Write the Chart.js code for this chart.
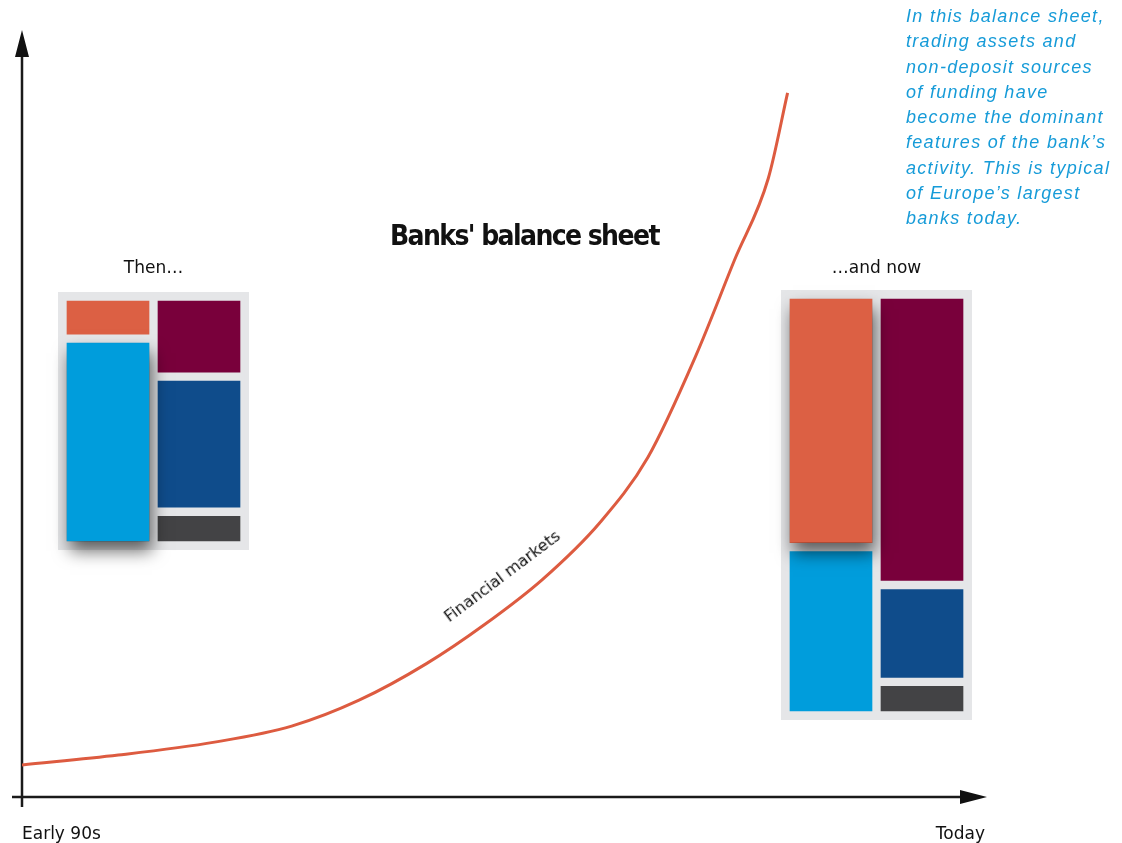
<!DOCTYPE html>
<html>
<head>
<meta charset="utf-8">
<script src="https://cdn.jsdelivr.net/npm/chart.js@4"></script>
<style>
  html, body { margin: 0; padding: 0; background: #fff; }
  #wrap { position: relative; width: 1122px; height: 843px; overflow: hidden; }
  canvas { position: absolute; }
  #main { left: 0; top: 0; }
  #then { left: 38px; top: 250px; }
  #now { left: 761px; top: 250px; }
  .title {
    position: absolute; left: 390px; top: 219px;
    font-family: "DejaVu Sans", sans-serif; font-weight: bold; font-size: 28px;
    font-stretch: condensed; letter-spacing: -1.6px;
    color: #111; white-space: nowrap;
  }
  .note {
    position: absolute; left: 906px; top: 4px;
    font: italic 18px "Liberation Sans", Arial, sans-serif;
    line-height: 25.3px; letter-spacing: 1.3px;
    color: #169bd8; white-space: nowrap;
  }
  .curve-label {
    position: absolute; left: 502px; top: 576px;
    transform: translate(-50%, -50%) rotate(-37deg);
    font: 16px "DejaVu Sans", sans-serif; color: #111; white-space: nowrap;
  }
</style>
</head>
<body>
<div id="wrap">
  <canvas id="main" width="1122" height="843"></canvas>
  <canvas id="then" width="230" height="340"></canvas>
  <canvas id="now" width="230" height="500"></canvas>
  <div class="title">Banks' balance sheet</div>
  <div class="curve-label">Financial markets</div>
  <div class="note">In this balance sheet,<br>trading assets and<br>non-deposit sources<br>of funding have<br>become the dominant<br>features of the bank’s<br>activity. This is typical<br>of Europe’s largest<br>banks today.</div>
</div>
<script>
// financial markets curve, 0..100 on both axes
const curveX = [0, 10, 20, 28, 35, 42, 48, 54, 60, 65, 70, 74, 77.5, 79.5];
const curveY = [4.2, 5.5, 7.2, 9.3, 12.7, 17.5, 22.6, 28.5, 36.0, 44.6, 58.0, 70.5, 81.2, 92.4];
const timeTicks = [0, 100];
const timeLabels = ["Early 90s", "Today"];

// balance sheets, same size units for both
const sheetSides = ["Assets", "Liabilities"];
const seriesNames = ["Loans", "Trading assets", "Equity", "Deposits", "Non-deposit funding"];
const seriesSide = [0, 0, 1, 1, 1];
const thenValues = [49, 10, 8, 32, 19];
const nowValues = [40, 60, 8, 23, 69];

const seriesColors = ["#009ddc", "#dc6044", "#434345", "#0f4c8b", "#79003b"];
const GRAY = "#e5e6e8";
const GAP = 4.5;

const axisArrows = {
  id: "axisArrows",
  beforeDatasetsDraw(chart) {
    const { ctx, chartArea: a } = chart;
    const x0 = chart.scales.x.getPixelForValue(0);
    const y0 = chart.scales.y.getPixelForValue(0);
    ctx.save();
    ctx.strokeStyle = "#1a1a1a";
    ctx.fillStyle = "#111";
    ctx.lineWidth = 2.5;
    ctx.beginPath();
    ctx.moveTo(x0 - 10, y0);
    ctx.lineTo(a.right - 20, y0);
    ctx.moveTo(x0, y0 + 10);
    ctx.lineTo(x0, a.top + 18);
    ctx.stroke();
    ctx.beginPath();
    ctx.moveTo(a.right + 2, y0);
    ctx.lineTo(a.right - 25, y0 - 7);
    ctx.lineTo(a.right - 25, y0 + 7);
    ctx.closePath();
    ctx.moveTo(x0, a.top - 5);
    ctx.lineTo(x0 - 7, a.top + 22);
    ctx.lineTo(x0 + 7, a.top + 22);
    ctx.closePath();
    ctx.fill();
    ctx.restore();
  },
};

new Chart(document.getElementById("main"), {
  type: "line",
  data: {
    datasets: [
      {
        label: "Financial markets",
        data: curveX.map((x, i) => ({ x, y: curveY[i] })),
        borderColor: "#dd5b40",
        borderWidth: 3,
        pointRadius: 0,
        cubicInterpolationMode: "monotone",
        fill: false,
      },
    ],
  },
  options: {
    responsive: false,
    animation: false,
    layout: { autoPadding: false, padding: { left: 22, right: 137, top: 35, bottom: 0 } },
    plugins: { legend: { display: false }, tooltip: { enabled: false } },
    scales: {
      x: {
        type: "linear",
        min: 0,
        max: 100,
        grid: { display: false },
        border: { display: false },
        afterBuildTicks: (s) => {
          s.ticks = timeTicks.map((v) => ({ value: v }));
        },
        afterFit: (s) => {
          s.height = 46;
        },
        ticks: {
          align: "inner",
          padding: 19,
          autoSkip: false,
          maxRotation: 0,
          color: "#111",
          font: { family: "DejaVu Sans", size: 17 },
          callback: (v, i) => timeLabels[i],
        },
      },
      y: { display: false, min: 0, max: 100 },
    },
  },
  plugins: [axisArrows],
});

// gray backing box plus a drop shadow under one block
const sheetBox = {
  id: "sheetBox",
  beforeDatasetsDraw(chart) {
    const { ctx, chartArea: a } = chart;
    ctx.save();
    ctx.fillStyle = GRAY;
    ctx.fillRect(a.left - GAP, a.top - GAP, a.width + GAP * 2, a.height + GAP * 2);
    ctx.restore();
  },
  afterDatasetsDraw(chart, args, opts) {
    const i = opts.shadow;
    const bar = chart.getDatasetMeta(i).data[seriesSide[i]];
    const p = bar.getProps(["x", "y", "base", "width"], true);
    const left = p.x - p.width / 2 + GAP;
    const top = Math.min(p.y, p.base) + GAP;
    const w = p.width - GAP * 2;
    const h = Math.abs(p.base - p.y) - GAP * 2;
    const { ctx } = chart;
    ctx.save();
    ctx.shadowColor = "rgba(0, 0, 0, 0.6)";
    ctx.shadowBlur = 16;
    ctx.shadowOffsetX = 3;
    ctx.shadowOffsetY = 10;
    ctx.fillStyle = seriesColors[i];
    ctx.fillRect(left, top, w, h);
    ctx.restore();
  },
};

function balanceSheet(id, title, values, shadow, pad, titleBottom) {
  const total = values.filter((v, i) => seriesSide[i] === 0).reduce((a, b) => a + b, 0);
  return new Chart(document.getElementById(id), {
    type: "bar",
    data: {
      labels: sheetSides,
      datasets: seriesNames.map((name, i) => ({
        label: name,
        data: sheetSides.map((s, j) => (seriesSide[i] === j ? values[i] : null)),
        backgroundColor: seriesColors[i],
        borderColor: GRAY,
        borderWidth: GAP,
        borderSkipped: false,
        categoryPercentage: 1,
        barPercentage: 1,
      })),
    },
    options: {
      responsive: false,
      animation: false,
      layout: { padding: pad },
      plugins: {
        legend: { display: false },
        tooltip: { enabled: false },
        title: {
          display: true,
          text: title,
          color: "#111",
          font: { family: "DejaVu Sans", size: 17, weight: "normal" },
          padding: { top: 8, bottom: titleBottom },
        },
        sheetBox: { shadow },
      },
      scales: {
        x: { display: false, stacked: true },
        y: { display: false, stacked: true, min: 0, max: total },
      },
    },
    plugins: [sheetBox],
  });
}

balanceSheet("then", "Then…", thenValues, 0, { left: 24.5, right: 23.5, top: 0, bottom: 44.5 }, 18.1);
balanceSheet("now", "…and now", nowValues, 1, { left: 24.5, right: 23.5, top: 0, bottom: 34.5 }, 16.1);
</script>
</body>
</html>
